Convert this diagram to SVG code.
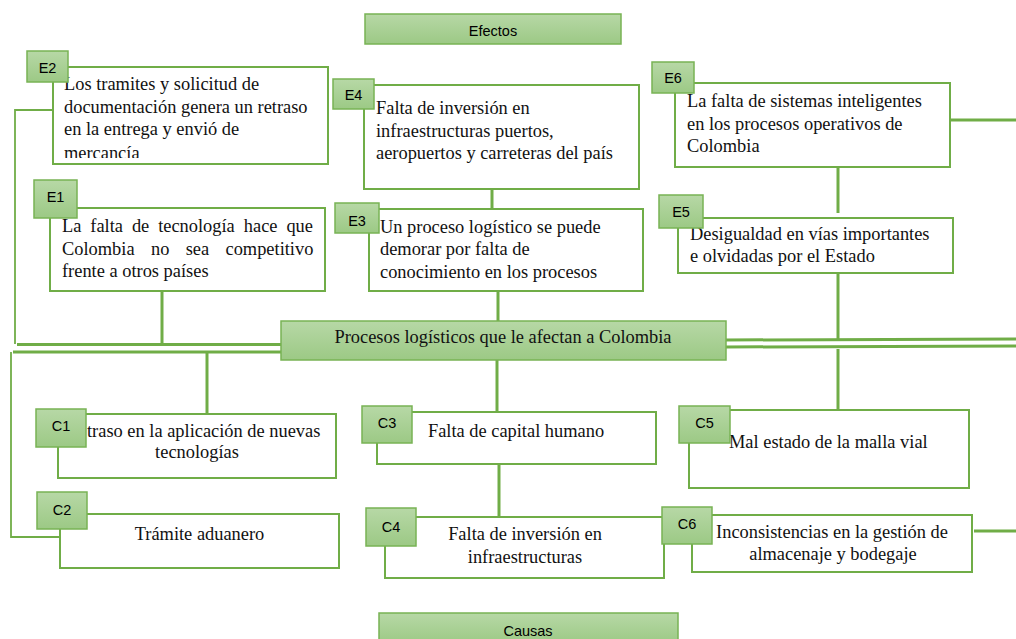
<svg xmlns="http://www.w3.org/2000/svg" width="1016" height="639" viewBox="0 0 1016 639">
<defs>
<linearGradient id="g" x1="0" y1="0" x2="0" y2="1">
<stop offset="0" stop-color="#b7d8a6"/>
<stop offset="1" stop-color="#9cc985"/>
</linearGradient>
<clipPath id="e2clip"><rect x="54" y="68" width="273" height="90"/></clipPath>
</defs>
<style>
.box{fill:#fff;stroke:#70ad47;stroke-width:2}
.tag{fill:url(#g);stroke:#78b354;stroke-width:1.5}
.lbl{font-family:"Liberation Sans",Arial,sans-serif;font-size:14.5px;fill:#000;text-anchor:middle}
.t{font-family:"Liberation Serif","Times New Roman",serif;font-size:18.4px;fill:#111}
.c{text-anchor:middle}
.ln{stroke:#70ad47;fill:none;stroke-width:3}
.thin{stroke:#70ad47;fill:none;stroke-width:1.8}
</style>

<g id="connectors">
<polyline class="thin" points="53,110 15,110 15,344"/>
<line class="ln" x1="17" y1="344.5" x2="281" y2="344.5"/>
<line class="ln" x1="162" y1="291" x2="162" y2="344"/>
<line class="ln" x1="13" y1="352" x2="281" y2="352"/>
<polyline class="thin" points="11,352 11,537 62,537"/>
<line class="ln" x1="207" y1="353" x2="207" y2="414"/>
<line class="ln" x1="492" y1="189" x2="492" y2="209"/>
<line class="ln" x1="498" y1="291" x2="498" y2="321"/>
<line class="ln" x1="497" y1="360" x2="497" y2="412"/>
<line class="ln" x1="499" y1="464" x2="499" y2="517"/>
<line class="ln" x1="950" y1="120" x2="1016" y2="120"/>
<line class="ln" x1="838" y1="167" x2="838" y2="213"/>
<line class="ln" x1="838" y1="273" x2="838" y2="340"/>
<line class="ln" x1="726" y1="340" x2="1016" y2="339"/>
<line class="ln" x1="726" y1="347" x2="1016" y2="346"/>
<line class="ln" x1="838" y1="349" x2="838" y2="410"/>
<line class="ln" x1="974" y1="531" x2="1016" y2="531"/>
</g>

<g id="efectos">
<rect class="tag" x="365" y="14" width="256" height="30"/>
<text class="lbl" x="493" y="36">Efectos</text>
</g>

<g id="E2">
<rect class="box" x="53" y="67" width="275" height="97"/>
<g clip-path="url(#e2clip)">
<text class="t" x="64" y="90">Los tramites y solicitud de</text>
<text class="t" x="64" y="113">documentación genera un retraso</text>
<text class="t" x="64" y="135">en la entrega y envió de</text>
<text class="t" x="64" y="159">mercancía</text>
</g>
<rect class="tag" x="27" y="51" width="41" height="31"/>
<text class="lbl" x="47.5" y="73">E2</text>
</g>

<g id="E4">
<rect class="box" x="364" y="85" width="275" height="104"/>
<text class="t" x="376" y="114">Falta de inversión en</text>
<text class="t" x="376" y="137">infraestructuras puertos,</text>
<text class="t" x="376" y="159">aeropuertos y carreteras del país</text>
<rect class="tag" x="333" y="79" width="41" height="30"/>
<text class="lbl" x="353.5" y="100">E4</text>
</g>

<g id="E6">
<rect class="box" x="675" y="83" width="275" height="84"/>
<text class="t" x="687" y="107">La falta de sistemas inteligentes</text>
<text class="t" x="687" y="130">en los procesos operativos de</text>
<text class="t" x="687" y="152">Colombia</text>
<rect class="tag" x="652" y="62" width="42" height="31"/>
<text class="lbl" x="673" y="83">E6</text>
</g>

<g id="E1">
<rect class="box" x="50" y="208" width="275" height="83"/>
<text class="t" y="232"><tspan x="62">La</tspan> <tspan x="90.3">falta</tspan> <tspan x="131.9">de</tspan> <tspan x="158.2">tecnología</tspan> <tspan x="243.8">hace</tspan> <tspan x="286.4">que</tspan></text>
<text class="t" y="255"><tspan x="62">Colombia</tspan> <tspan x="151">no</tspan> <tspan x="185.7">sea</tspan> <tspan x="225.5">competitivo</tspan></text>
<text class="t" x="62" y="277">frente a otros países</text>
<rect class="tag" x="34" y="180" width="43" height="38"/>
<text class="lbl" x="55.5" y="202">E1</text>
</g>

<g id="E3">
<rect class="box" x="369" y="209" width="274" height="82"/>
<text class="t" x="380" y="233">Un proceso logístico se puede</text>
<text class="t" x="380" y="255">demorar por falta de</text>
<text class="t" x="380" y="278">conocimiento en los procesos</text>
<rect class="tag" x="335" y="203" width="44" height="30"/>
<text class="lbl" x="357" y="226">E3</text>
</g>

<g id="E5">
<rect class="box" x="678" y="218" width="275" height="55"/>
<text class="t" x="690" y="240">Desigualdad en vías importantes</text>
<text class="t" x="690" y="262">e olvidadas por el Estado</text>
<rect class="tag" x="659" y="195" width="44" height="33"/>
<text class="lbl" x="681" y="217">E5</text>
</g>

<g id="center">
<rect class="tag" x="281" y="321" width="445" height="39"/>
<text class="t c" x="503" y="343">Procesos logísticos que le afectan a Colombia</text>
</g>

<g id="C1">
<rect class="box" x="58" y="414" width="278" height="64"/>
<text class="t" x="87" y="437">traso en la aplicación de nuevas</text>
<text class="t c" x="197" y="458">tecnologías</text>
<rect class="tag" x="36" y="409" width="50" height="38"/>
<text class="lbl" x="61" y="431">C1</text>
</g>

<g id="C2">
<rect class="box" x="60" y="514" width="279" height="54"/>
<text class="t c" x="199.5" y="540">Trámite aduanero</text>
<rect class="tag" x="37" y="492" width="50" height="37"/>
<text class="lbl" x="62" y="515">C2</text>
</g>

<g id="C3">
<rect class="box" x="377" y="412" width="279" height="52"/>
<text class="t c" x="516" y="437">Falta de capital humano</text>
<rect class="tag" x="362" y="406" width="50" height="37"/>
<text class="lbl" x="387" y="428">C3</text>
</g>

<g id="C4">
<rect class="box" x="385" y="517" width="279" height="61"/>
<text class="t c" x="525" y="540">Falta de inversión en</text>
<text class="t c" x="525" y="563">infraestructuras</text>
<rect class="tag" x="366" y="508" width="50" height="38"/>
<text class="lbl" x="391" y="532">C4</text>
</g>

<g id="C5">
<rect class="box" x="689" y="410" width="280" height="78"/>
<text class="t" x="729" y="448">Mal estado de la malla vial</text>
<rect class="tag" x="679" y="406" width="51" height="37"/>
<text class="lbl" x="704.5" y="428">C5</text>
</g>

<g id="C6">
<rect class="box" x="692" y="515" width="280" height="57"/>
<text class="t c" x="832" y="538">Inconsistencias en la gestión de</text>
<text class="t c" x="833" y="560">almacenaje y bodegaje</text>
<rect class="tag" x="662" y="507" width="50" height="37"/>
<text class="lbl" x="687" y="529">C6</text>
</g>

<g id="causas">
<rect class="tag" x="379" y="613" width="299" height="30"/>
<text class="lbl" x="528" y="636">Causas</text>
</g>
</svg>
